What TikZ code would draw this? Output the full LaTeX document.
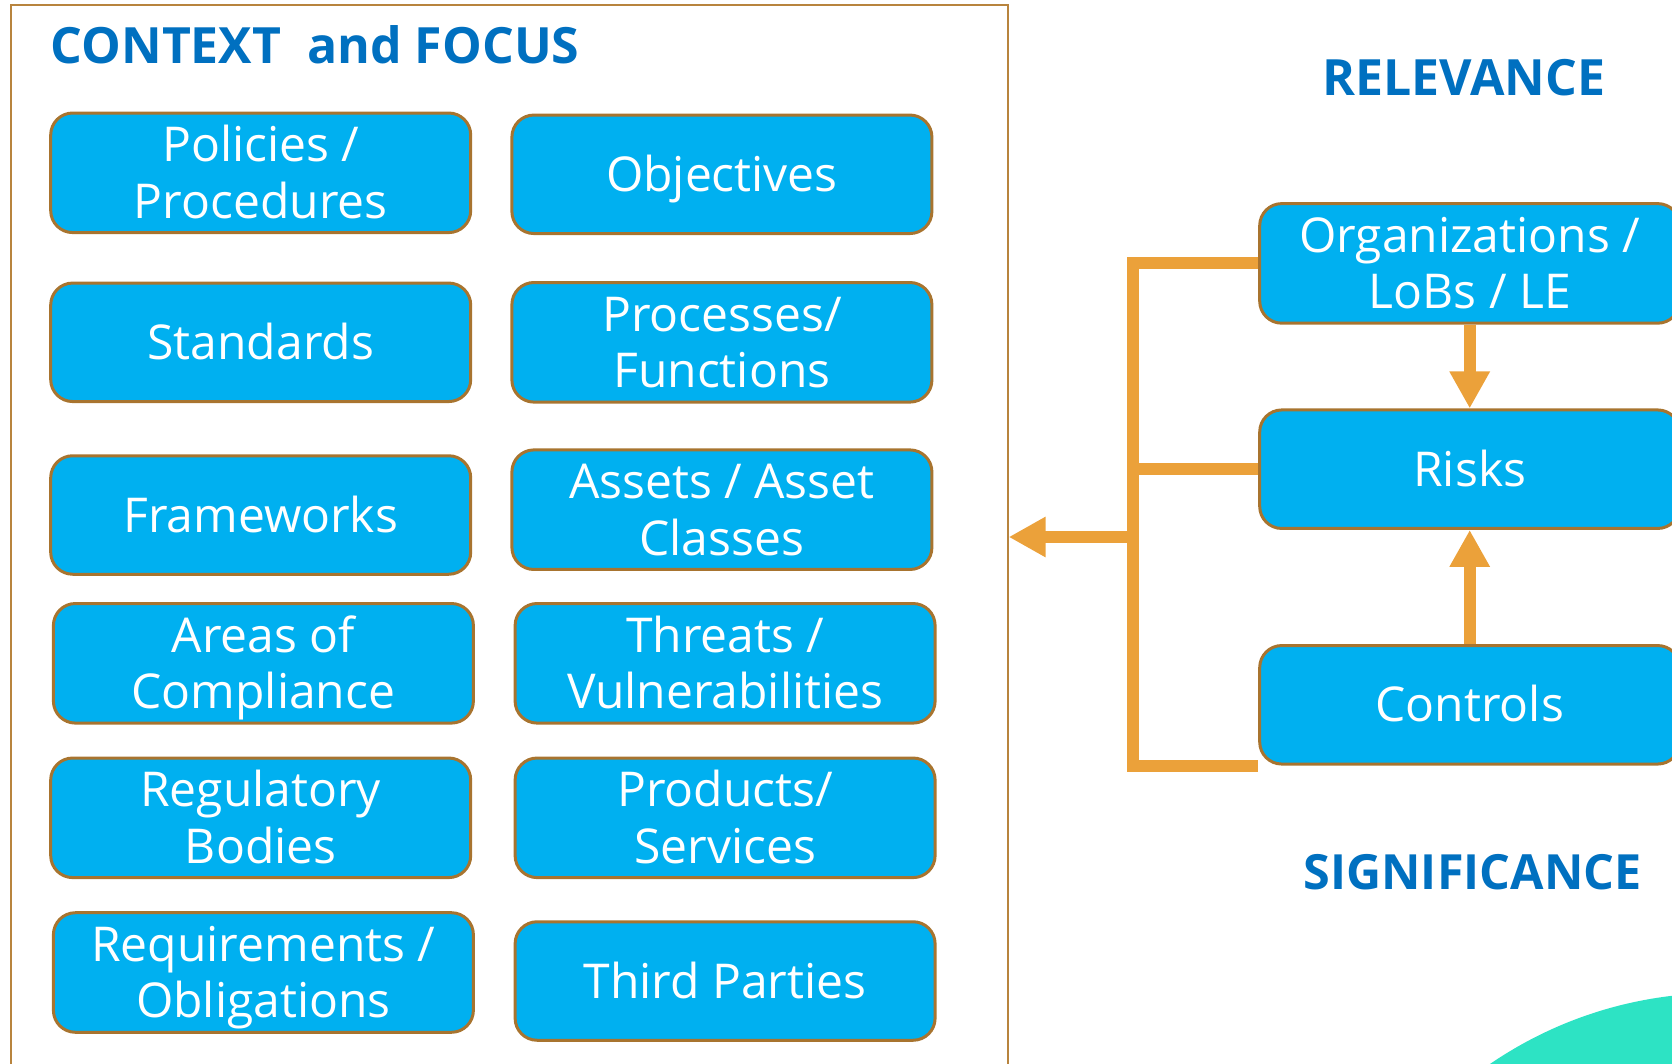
\documentclass[tikz,border=0pt]{standalone}
\usepackage{fontspec}
\setmainfont{Open Sans}
\usetikzlibrary{arrows.meta}
\definecolor{boxfill}{HTML}{00B0F0}
\definecolor{boxline}{HTML}{A8742F}
\definecolor{frameline}{HTML}{B8843E}
\definecolor{connc}{HTML}{EBA13A}
\definecolor{titleblue}{HTML}{0070C0}
\definecolor{blobgreen}{HTML}{2DE3C4}
\newcommand\twol[2]{\rule{0pt}{1.014em}#1\\#2\rule[-0.3em]{0pt}{0.3em}}
\newcommand\onel[1]{\rule{0pt}{1.014em}#1\rule[-0.3em]{0pt}{0.3em}}
\begin{document}
\begin{tikzpicture}[x=1pt,y=-1pt,
  itembox/.style={draw=boxline, line width=3pt, fill=boxfill, rounded corners=22pt,
    minimum width=420pt, minimum height=118.5pt, inner sep=0pt, text=white,
    align=center, font=\fontsize{48}{56.5}\selectfont},
  headtxt/.style={text=titleblue, font=\fontsize{50}{60}\selectfont\bfseries, inner sep=0pt},
  connline/.style={draw=connc, line width=12pt, line join=miter},
  conarrow/.style={connline, -{Triangle[length=37pt,width=38pt]}}]
\useasboundingbox (0,0) rectangle (1672,1064);
\clip (0,0) rectangle (1672,1064);
\fill[blobgreen] (1720,1401) circle[radius=408pt];
\node[draw=frameline, line width=2pt, minimum width=997pt, minimum height=1113pt, inner sep=0pt] (ctx) at (509.2,562) {};
\node[headtxt, anchor=base west] (title) at (50.5,63.3) {CONTEXT\ \ and FOCUS};
\node[headtxt, anchor=base] (rel) at (1464,96) {RELEVANCE};
\node[headtxt, anchor=base, font=\fontsize{48.5}{60}\selectfont\bfseries] (sig) at (1472.6,889) {SIGNIFICANCE};
% left column
\node[itembox] (pol) at (260.7,172.8) {\twol{Policies /}{Procedures}};
\node[itembox] (std) at (260.7,342.3) {\onel{Standards}};
\node[itembox] (frm) at (260.7,515) {\onel{Frameworks}};
\node[itembox] (aoc) at (263.4,663.3) {\twol{Areas of}{Compliance}};
\node[itembox] (reg) at (260.7,817.8) {\twol{Regulatory}{Bodies}};
\node[itembox] (req) at (263.4,972.5) {\twol{Requirements /}{Obligations}};
% right column
\node[itembox] (obj) at (721.9,174.3) {\onel{Objectives}};
\node[itembox] (proc) at (721.9,342.3) {\twol{Processes/}{Functions}};
\node[itembox] (asset) at (721.9,509.7) {\twol{Assets / Asset}{Classes}};
\node[itembox] (thr) at (725.1,663.3) {\twol{Threats /}{Vulnerabilities}};
\node[itembox] (prod) at (725.1,817.8) {\twol{Products/}{Services}};
\node[itembox] (tp) at (725.1,981) {\onel{Third Parties}};
% relevance column
\node[itembox] (org) at (1469.7,263.4) {\twol{Organizations /}{LoBs / LE}};
\node[itembox] (risks) at (1469.7,469.2) {\onel{Risks}};
\node[itembox] (ctrl) at (1469.7,704.8) {\onel{Controls}};
% connectors
\coordinate (bar) at (1133,537);
\draw[connline] (org.west) -| (bar |- ctrl.south) -- (ctrl.south west);
\draw[connline] (risks.west) -- (risks.west -| bar);
\draw[conarrow] (bar) -- (bar -| ctx.east);
\draw[conarrow] (org.south) -- (risks.north);
\draw[conarrow] (ctrl.north) -- (risks.south);
\end{tikzpicture}
\end{document}
